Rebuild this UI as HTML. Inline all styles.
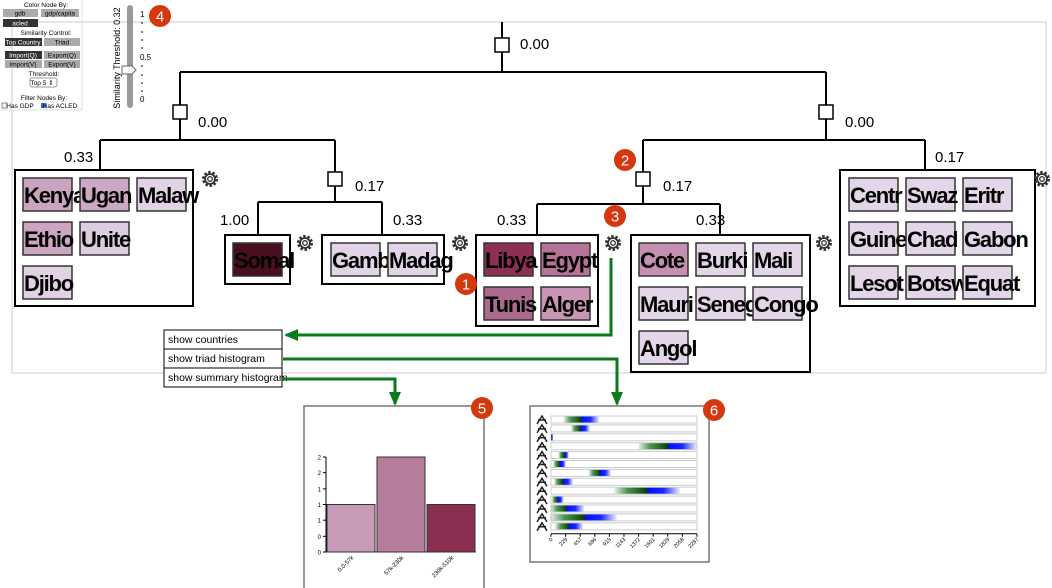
<!DOCTYPE html>
<html><head><meta charset="utf-8"><style>
body{margin:0;background:#fff;width:1052px;height:588px;overflow:hidden;font-family:"Liberation Sans",sans-serif}
svg{position:absolute;left:0;top:0}
text{font-family:"Liberation Sans",sans-serif}
.cl{font-weight:bold;font-size:22px;letter-spacing:-1.2px}
</style></head><body>
<svg width="1052" height="588" id="s">
<defs>
<marker id="ar" markerUnits="userSpaceOnUse" markerWidth="14" markerHeight="14" refX="12" refY="7" orient="auto"><path d="M0,1 L14,7 L0,13 z" fill="#0a7a1f"/></marker>
</defs>
<rect x="12" y="22" width="1034" height="351" fill="none" stroke="#ccc"/>
<g id="tree" stroke="#000" stroke-width="2" fill="none">
<path d="M502,22V38M502,52V72M180,72H826M180,72V105M180,119V140M100,140H335M100,140V170M335,140V172M335,186V202M258,202H382M258,202V235M382,202V235M826,72V105M826,119V140M643,140H925M925,140V170M643,140V172M643,186V204M537,204H720M537,204V235M720,204V235"/>
</g>
<g fill="#fff" stroke="#000" stroke-width="1.5">
<rect x="495" y="38" width="14" height="14"/>
<rect x="173" y="105" width="14" height="14"/>
<rect x="328" y="172" width="14" height="14"/>
<rect x="819" y="105" width="14" height="14"/>
<rect x="636" y="172" width="14" height="14"/>
</g>
<g font-size="15" fill="#000">
<text x="520" y="49">0.00</text><text x="198" y="127">0.00</text><text x="845" y="127">0.00</text>
<text x="64" y="162">0.33</text><text x="355" y="191">0.17</text><text x="220" y="225">1.00</text><text x="393" y="225">0.33</text>
<text x="935" y="162">0.17</text><text x="663" y="191">0.17</text><text x="497" y="225">0.33</text><text x="696" y="225">0.33</text>
</g>
<g fill="#fff" stroke="#000" stroke-width="2">
<rect x="15" y="170" width="178" height="136"/>
<rect x="225" y="235" width="65" height="49"/>
<rect x="322" y="235" width="122" height="49"/>
<rect x="476" y="235" width="122" height="91"/>
<rect x="631" y="235" width="179" height="137"/>
<rect x="840" y="170" width="195" height="136"/>
</g>
<g id="cells"></g>
<g id="gears"></g>
<g font-size="10.5">
<rect x="164" y="330" width="118" height="19" fill="#fff" stroke="#000"/>
<rect x="164" y="349" width="118" height="19" fill="#fff" stroke="#000"/>
<rect x="164" y="368" width="118" height="19" fill="#fff" stroke="#000"/>
<text x="168" y="343">show countries</text><text x="168" y="362">show triad histogram</text><text x="168" y="381">show summary histogram</text>
</g>
<g stroke="#0a7a1f" stroke-width="3" fill="none">
<path d="M611,258V335H286" marker-end="url(#ar)"/>
<path d="M283,359H617V404" marker-end="url(#ar)"/>
<path d="M283,379H395V404" marker-end="url(#ar)"/>
</g>
<rect x="304" y="406" width="180" height="190" fill="#fff" stroke="#777" stroke-width="1.5"/>
<g id="hist"></g>
<rect x="530" y="406" width="179" height="156" fill="#fff" stroke="#777" stroke-width="1.5"/>
<defs id="gd"></defs>
<g id="triad"></g>
<g font-size="6.5" text-anchor="middle">
<path d="M0,110H82V0" fill="none" stroke="#ddd"/>
<text x="46" y="7">Color Node By:</text>
<rect x="3" y="9" width="35" height="8" fill="#aaa"/><text x="20" y="15.5">gdb</text>
<rect x="41" y="9" width="38" height="8" fill="#aaa"/><text x="60" y="15.5">gdp/capita</text>
<rect x="3" y="19" width="35" height="8" fill="#333"/><text x="20" y="25.5" fill="#fff">acled</text>
<text x="46" y="35">Similarity Control:</text>
<rect x="5" y="38" width="37" height="8" fill="#333"/><text x="23" y="44.5" fill="#fff">Top Country</text>
<rect x="44" y="38" width="36" height="8" fill="#aaa"/><text x="62" y="44.5">Triad</text>
<rect x="5" y="51" width="37" height="8" fill="#333"/><text x="23" y="57.5" fill="#fff">Import(Q)</text>
<rect x="44" y="51" width="36" height="8" fill="#aaa"/><text x="62" y="57.5">Export(Q)</text>
<rect x="5" y="60" width="37" height="8" fill="#aaa"/><text x="23" y="66.5">Import(V)</text>
<rect x="44" y="60" width="36" height="8" fill="#aaa"/><text x="62" y="66.5">Export(V)</text>
<text x="44" y="76">Threshold:</text>
<rect x="30" y="78" width="27" height="9" rx="2" fill="#fff" stroke="#999"/><text x="42" y="85">Top 5 ⇕</text>
<text x="44" y="100">Filter Nodes By:</text>
<rect x="2" y="103" width="5" height="5" fill="#fff" stroke="#888"/><text x="20" y="108">Has GDP</text>
<rect x="41" y="103" width="5" height="5" fill="#2a6fd6"/><text x="60" y="108">Has ACLED</text>
</g>
<g>
<rect x="127" y="5" width="6" height="103" rx="3" fill="#999"/>
<path d="M122,66H132L136,70L132,74H122Z" fill="#fff" stroke="#666"/>
<text transform="translate(120,58) rotate(-90)" font-size="9" text-anchor="middle">Similarity Threshold: 0.32</text>
<g font-size="8"><text x="140" y="17">1</text><text x="140" y="60">0.5</text><text x="140" y="102">0</text></g>
<path d="M141,23h2M141,32h2M141,40h2M141,48h2M141,66h2M141,75h2M141,83h2M141,91h2" stroke="#000"/>
</g>
<g id="badges"></g>
</svg>
<script>
const NS='http://www.w3.org/2000/svg';
function mk(t,a,p){const e=document.createElementNS(NS,t);for(const k in a)e.setAttribute(k,a[k]);p.appendChild(e);return e;}
const clusters=[
 {x:23,y:178,rows:[3,2,1],names:['Kenya','Ugan','Malaw','Ethio','Unite','Djibo'],colors:['#c9a3c0','#cda8c4','#e2d3e4','#cba5c1','#ddcde0','#e0d2e3']},
 {x:233,y:243,rows:[1],names:['Somal'],colors:['#4a0f1e']},
 {x:331,y:243,rows:[2],names:['Gamb','Madag'],colors:['#e0d4e6','#e0d4e6']},
 {x:484,y:243,rows:[2,2],names:['Libya','Egypt','Tunis','Alger'],colors:['#8d2f55','#b47397','#ad6a8f','#c896b4']},
 {x:639,y:243,rows:[3,3,1],names:['Cote','Burki','Mali','Mauri','Seneg','Congo','Angol'],colors:['#c48fb0','#e2d6e8','#e2d6e8','#e2d6e8','#e2d6e8','#e2d6e8','#e2d6e8']},
 {x:849,y:178,rows:[3,3,3],names:['Centr','Swaz','Eritr','Guine','Chad','Gabon','Lesot','Botsw','Equat'],colors:Array(9).fill('#e2d6e8')}
];
const cg=document.getElementById('cells');
clusters.forEach(c=>{let i=0;c.rows.forEach((n,r)=>{for(let k=0;k<n;k++,i++){
 const nm=c.names[i],x=c.x+k*57,y=c.y+r*44;
 const rc=mk('rect',{x:x,y:y,width:49,height:33,fill:c.colors[i],stroke:'#333','stroke-width':1.5},cg);
 
 
 const t=mk('text',{x:x+1,y:y+25,class:'cl'},cg);t.textContent=nm;
}});});
const gg=document.getElementById('gears');
[[210,179],[305,243],[460,243],[613,243],[824,243],[1042,179]].forEach(p=>{
 const g=mk('g',{transform:`translate(${p[0]},${p[1]})`},gg);
 
 
 mk('circle',{r:6.5,fill:'none',stroke:'#333','stroke-width':3,'stroke-dasharray':'2.4 1.7'},g);
 mk('circle',{r:5,fill:'none',stroke:'#333','stroke-width':1.8},g);
 mk('circle',{r:2.3,fill:'none',stroke:'#333','stroke-width':1.3},g);
});
const bg=document.getElementById('badges');
[[466,284,'1'],[625,160,'2'],[615,216,'3'],[160,16,'4'],[482,408,'5'],[714,410,'6']].forEach(b=>{
 const c=mk('circle',{cx:b[0],cy:b[1],r:11,fill:'#d4380f'},bg);
 
 
 const t=mk('text',{x:b[0],y:b[1]+5.5,'text-anchor':'middle',fill:'#fff','font-size':15},bg);t.textContent=b[2];
});

// summary histogram
const histCats=['0.0-57k','57k-230k','230k-510k'];
const histVals=[1,2,1];
const histTickVals=[0,0.33,0.67,1,1.33,1.67,2];
const histTickLabels=['0','0','1','1','1','2','2'];
const histColors=['#c89bb9','#b67c9c','#8a2e52'];
const hg=document.getElementById('hist');
const hx0=326,hbw=50,hy0=552,hy1=457,hmax=2;
const hy=v=>hy0-(hy0-hy1)*v/hmax;
mk('path',{d:`M${hx0},${hy1}V${hy0}H${hx0+150}`,stroke:'#000',fill:'none'},hg);
histTickVals.forEach((v,i)=>{mk('path',{d:`M${hx0-3},${hy(v)}H${hx0}`,stroke:'#000'},hg);
 const t=mk('text',{x:hx0-5,y:hy(v)+2.5,'font-size':6,'text-anchor':'end'},hg);t.textContent=histTickLabels[i];});
histVals.forEach((v,i)=>{
 const r=mk('rect',{x:hx0+1+i*hbw,y:hy(v),width:hbw-2,height:hy0-hy(v),fill:histColors[i],stroke:'#333'},hg);
 
 
 const cx=hx0+i*hbw+hbw/2;
 const t=mk('text',{transform:`translate(${cx+3},${hy0+6}) rotate(-45)`,'font-size':6,'text-anchor':'end'},hg);t.textContent=histCats[i];
});

// triad histogram
const triadStart=[198,318,0,1373,120,37,590,52,992,16,0,0,68];
const triadPeak=[475,465,8,1832,209,141,767,188,1509,104,240,532,282];
const triadEnd=[757,611,15,2287,277,235,940,345,2025,198,522,1034,501];
const triadTicks=[0,229,457,686,915,1143,1372,1601,1829,2058,2287];
const tmax=2287,tx0=551,tx1=697,ty0=416,tstep=8.9,th=7;
const tx=v=>tx0+(tx1-tx0)*v/tmax;
const tg=document.getElementById('triad'),gd=document.getElementById('gd');
triadStart.forEach((s,i)=>{
 const y=ty0+i*tstep;
 mk('rect',{x:tx0,y:y,width:tx1-tx0,height:th,fill:'#fff',stroke:'#ccc'},tg);
 const id='tg'+i,g=mk('linearGradient',{id:id,x1:0,x2:1},gd);
 const a=tx(s),p=tx(triadPeak[i]),e=tx(triadEnd[i]),w=Math.max(e-a,2),f=(p-a)/w;
 mk('stop',{offset:0,'stop-color':'#0a6a14','stop-opacity':0.1},g);
 mk('stop',{offset:f*0.4,'stop-color':'#1a7a20','stop-opacity':0.8},g);
 mk('stop',{offset:f,'stop-color':'#0a3a0a','stop-opacity':1},g);
 mk('stop',{offset:Math.min(f+0.01,1),'stop-color':'#0010ff','stop-opacity':1},g);
 mk('stop',{offset:Math.min(f+(1-f)*0.5,1),'stop-color':'#0010ff','stop-opacity':0.9},g);
 mk('stop',{offset:1,'stop-color':'#0010ff','stop-opacity':0.05},g);
 const r=mk('rect',{x:a,y:y+0.5,width:w,height:th-1,fill:`url(#${id})`},tg);
 
 
 mk('path',{d:`M${537},${y+8}L${542},${y}L${547},${y+8}M${538},${y+4}H${546}`,stroke:'#222','stroke-width':1.5,fill:'none'},tg);
});
mk('path',{d:`M${tx0},${ty0+13*tstep+2}H${tx1}`,stroke:'#000'},tg);
triadTicks.forEach(v=>{const x=tx(v),y=ty0+13*tstep+2;mk('path',{d:`M${x},${y}V${y+3}`,stroke:'#000'},tg);
 const t=mk('text',{transform:`translate(${x+2},${y+6}) rotate(-45)`,'font-size':5.5,'text-anchor':'end'},tg);t.textContent=v;});
</script>
</body></html>
